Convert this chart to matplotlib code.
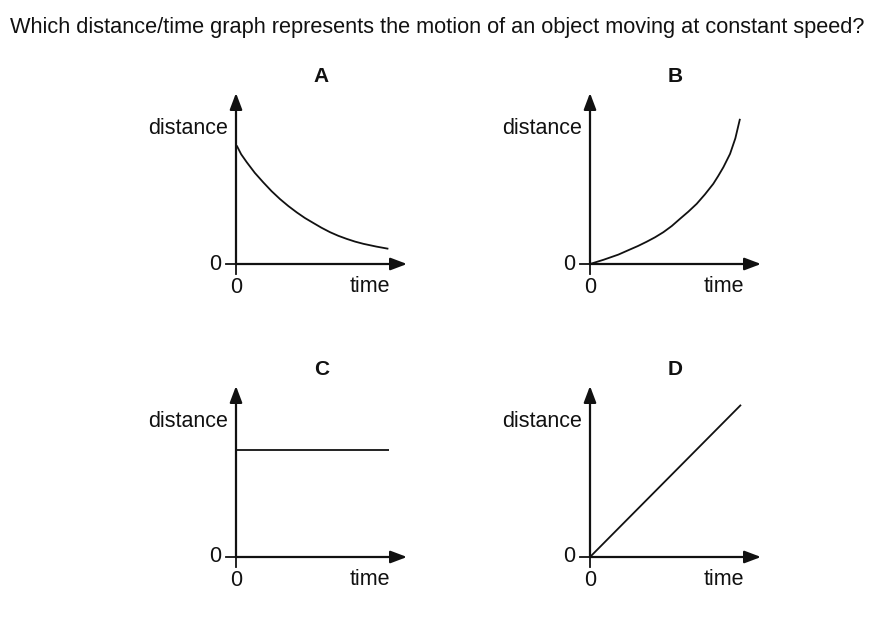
import matplotlib.pyplot as plt

plt.rcParams['font.family'] = ['Liberation Sans', 'DejaVu Sans']

W, H = 877, 617

# Graph A: distance falls away with time
a_time = [0.04, 0.30, 0.63, 1.10, 1.59, 2.08, 2.57, 3.06, 3.55, 4.03, 4.52,
          5.00, 5.50, 5.98, 6.47, 6.96, 7.45, 8.20, 8.91]
a_dist = [6.93, 6.42, 5.95, 5.33, 4.78, 4.26, 3.80, 3.39, 3.02, 2.69, 2.40,
          2.12, 1.86, 1.65, 1.47, 1.31, 1.18, 1.02, 0.89]

# Graph B: distance grows faster and faster
b_time = [0, 0.80, 1.66, 2.34, 2.80, 3.31, 3.80, 4.29, 4.78, 5.26, 5.75,
          6.24, 6.72, 7.21, 7.50, 7.80, 8.19, 8.50, 8.77]
b_dist = [0, 0.25, 0.55, 0.85, 1.05, 1.30, 1.56, 1.86, 2.22, 2.64, 3.06,
          3.52, 4.07, 4.69, 5.15, 5.66, 6.44, 7.35, 8.49]

# Graph C: distance stays the same
c_time = [0, 8.95]
c_dist = [6.26, 6.26]

# Graph D: straight line through the origin
d_time = [0, 8.83]
d_dist = [0, 8.9]

panels = [
    ('A', (236, 264), a_time, a_dist),
    ('B', (590, 264), b_time, b_dist),
    ('C', (236, 557), c_time, c_dist),
    ('D', (590, 557), d_time, d_dist),
]

L = 171  # axis length in pixels, arrow tip included

fig = plt.figure(figsize=(W / 100, H / 100), dpi=100)

fig.text(10 / W, 1 - 28 / H,
         'Which distance/time graph represents the motion of an object moving at constant speed?',
         fontsize=15.7, ha='left', va='center', color='#111111')

for letter, (ox, oy), t, d in panels:
    ax = fig.add_axes([ox / W, 1 - oy / H, L / W, L / H])
    ax.set_xlim(0, 10)
    ax.set_ylim(0, 10)
    ax.axis('off')

    arrow = dict(arrowstyle='-|>,head_length=0.45,head_width=0.17',
                 color='#111111', lw=1.6, mutation_scale=22, shrinkA=0, shrinkB=0)
    ax.annotate('', xy=(10, 0), xytext=(0, 0), arrowprops=arrow, annotation_clip=False)
    ax.annotate('', xy=(0, 10), xytext=(0, 0), arrowprops=arrow, annotation_clip=False)

    # small ticks at the origin
    ax.plot([-0.6, 0], [0, 0], color='#111111', lw=1.3, clip_on=False)
    ax.plot([0, 0], [-0.6, 0], color='#111111', lw=1.3, clip_on=False)

    ax.plot(t, d, color='#111111', lw=1.3, clip_on=False,
            solid_capstyle='butt', solid_joinstyle='round')

    ax.text(-1.2, 0, '0', fontsize=15.5, ha='center', va='center', color='#111111')
    ax.text(0, -1.35, '0', fontsize=15.5, ha='center', va='center', color='#111111')
    ax.text(-0.45, 7.95, 'distance', fontsize=15.5, ha='right', va='center', color='#111111')
    ax.text(7.8, -1.3, 'time', fontsize=15.5, ha='center', va='center', color='#111111')
    ax.text(5.0, 10.95, letter, fontsize=15, fontweight='bold', ha='center', va='center',
            color='#111111')

fig.savefig('out.png', dpi=100)
